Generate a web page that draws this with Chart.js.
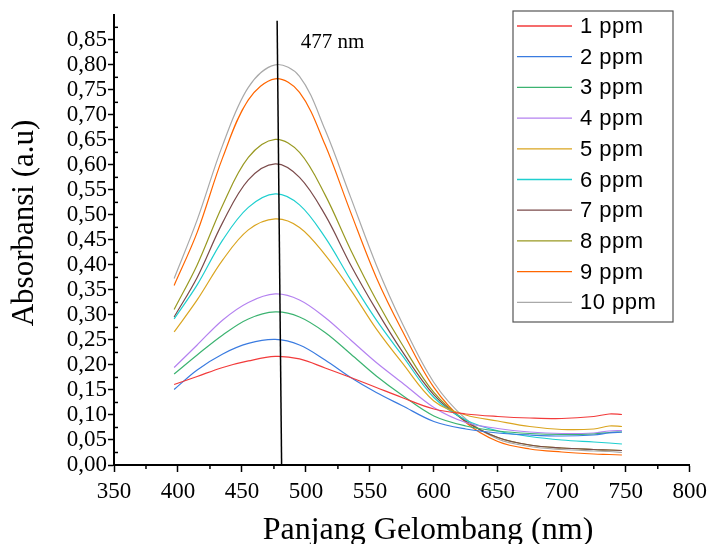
<!DOCTYPE html>
<html>
<head>
<meta charset="utf-8">
<script src="https://cdn.jsdelivr.net/npm/chart.js@4.4.1/dist/chart.umd.min.js"></script>
<style>
  html, body { margin: 0; padding: 0; background: #fff; }
  #wrap { width: 713px; height: 544px; }
</style>
</head>
<body>
<div id="wrap"><canvas id="spectra" width="713" height="544"></canvas></div>
<script>
const wavelengths = [397, 415, 435, 455, 476, 495, 515, 535, 555, 575, 600, 625, 650, 675, 700, 725, 737, 747];

const seriesLabels = ['1 ppm', '2 ppm', '3 ppm', '4 ppm', '5 ppm', '6 ppm', '7 ppm', '8 ppm', '9 ppm', '10 ppm'];
const seriesColors = ['#f23b3b', '#3a7be0', '#3cb371', '#b482f0', '#daa520', '#1fcfcf', '#7b4b4b', '#999922', '#ff6600', '#a9a9a9'];

// absorbance (a.u) per concentration
const ppm1  = [0.161, 0.177, 0.195, 0.208, 0.217, 0.212, 0.194, 0.175, 0.155, 0.135, 0.112, 0.102, 0.097, 0.094, 0.093, 0.097, 0.102, 0.101];
const ppm2  = [0.151, 0.190, 0.222, 0.243, 0.251, 0.240, 0.210, 0.175, 0.145, 0.119, 0.087, 0.072, 0.064, 0.060, 0.058, 0.060, 0.064, 0.066];
const ppm3  = [0.182, 0.220, 0.260, 0.292, 0.306, 0.296, 0.265, 0.222, 0.178, 0.140, 0.098, 0.078, 0.068, 0.063, 0.061, 0.062, 0.065, 0.066];
const ppm4  = [0.195, 0.240, 0.290, 0.325, 0.342, 0.330, 0.295, 0.250, 0.205, 0.165, 0.115, 0.085, 0.073, 0.066, 0.063, 0.064, 0.068, 0.069];
const ppm5  = [0.266, 0.330, 0.410, 0.470, 0.492, 0.475, 0.420, 0.350, 0.272, 0.205, 0.128, 0.100, 0.088, 0.077, 0.071, 0.072, 0.078, 0.077];
const ppm6  = [0.292, 0.360, 0.450, 0.515, 0.542, 0.520, 0.455, 0.370, 0.290, 0.220, 0.135, 0.090, 0.068, 0.057, 0.050, 0.046, 0.044, 0.042];
const ppm7  = [0.296, 0.375, 0.485, 0.570, 0.602, 0.575, 0.500, 0.400, 0.310, 0.228, 0.140, 0.087, 0.055, 0.040, 0.034, 0.031, 0.030, 0.029];
const ppm8  = [0.311, 0.400, 0.520, 0.615, 0.651, 0.625, 0.540, 0.430, 0.330, 0.242, 0.145, 0.088, 0.055, 0.040, 0.034, 0.031, 0.030, 0.029];
const ppm9  = [0.359, 0.465, 0.615, 0.730, 0.772, 0.745, 0.640, 0.505, 0.375, 0.270, 0.155, 0.085, 0.047, 0.032, 0.026, 0.022, 0.021, 0.020];
const ppm10 = [0.373, 0.490, 0.640, 0.755, 0.800, 0.777, 0.670, 0.535, 0.400, 0.285, 0.165, 0.092, 0.052, 0.037, 0.031, 0.028, 0.027, 0.025];
const allSeries = [ppm1, ppm2, ppm3, ppm4, ppm5, ppm6, ppm7, ppm8, ppm9, ppm10];

// lambda max marker
const peakLabel = '477 nm';
const peakLine = { x1: 477.5, y1: 0.888, x2: 481, y2: 0 };
const peakText = { x: 496, y: 0.845 };

const serif = '"Liberation Serif", "Times New Roman", serif';
const sans = '"Liberation Sans", Arial, sans-serif';

const datasets = allSeries.map((vals, i) => ({
  label: seriesLabels[i],
  data: vals.map((v, j) => ({ x: wavelengths[j], y: v })),
  borderColor: seriesColors[i],
  borderWidth: 1.2,
  pointRadius: 0,
  fill: false,
  tension: 0.35,
}));

// small ticks between the labelled ones + axis titles + marker + boxed legend
const extras = {
  id: 'extras',
  afterDraw(chart) {
    const ctx = chart.ctx;
    const xs = chart.scales.x, ys = chart.scales.y;
    const area = chart.chartArea;
    ctx.save();
    ctx.strokeStyle = '#000';
    ctx.lineWidth = 1.5;
    // minor ticks
    for (let v = 375; v < 800; v += 50) {
      const px = xs.getPixelForValue(v);
      ctx.beginPath(); ctx.moveTo(px, area.bottom); ctx.lineTo(px, area.bottom + 4); ctx.stroke();
    }
    for (let k = 0; k < 18; k++) {
      const py = ys.getPixelForValue(0.025 + k * 0.05);
      ctx.beginPath(); ctx.moveTo(area.left, py); ctx.lineTo(area.left + 4, py); ctx.stroke();
    }
    // 477 nm line
    ctx.lineWidth = 1.5;
    ctx.beginPath();
    ctx.moveTo(xs.getPixelForValue(peakLine.x1), ys.getPixelForValue(peakLine.y1));
    ctx.lineTo(xs.getPixelForValue(peakLine.x2), ys.getPixelForValue(peakLine.y2));
    ctx.stroke();
    ctx.fillStyle = '#000';
    ctx.font = '21px ' + serif;
    ctx.textBaseline = 'middle';
    ctx.textAlign = 'left';
    ctx.fillText(peakLabel, xs.getPixelForValue(peakText.x), ys.getPixelForValue(peakText.y));

    // axis titles
    ctx.font = '32px ' + serif;
    ctx.textAlign = 'center';
    ctx.textBaseline = 'alphabetic';
    ctx.fillText('Panjang Gelombang (nm)', 428, 539);
    ctx.save();
    ctx.translate(33, 223);
    ctx.rotate(-Math.PI / 2);
    ctx.font = '31px ' + serif;
    ctx.fillText('Absorbansi (a.u)', 0, 0);
    ctx.restore();

    // legend box
    const lx = 513, ly = 11, lw = 160, lh = 311, row = 30.7;
    ctx.fillStyle = '#fff';
    ctx.fillRect(lx, ly, lw, lh);
    ctx.strokeStyle = '#555';
    ctx.lineWidth = 1.2;
    ctx.strokeRect(lx, ly, lw, lh);
    ctx.font = '22px ' + sans;
    ctx.letterSpacing = '0.5px';
    ctx.textAlign = 'left';
    ctx.textBaseline = 'middle';
    chart.data.datasets.forEach((ds, i) => {
      const cy = ly + 15 + i * row;
      ctx.strokeStyle = ds.borderColor;
      ctx.lineWidth = 1.3;
      ctx.beginPath(); ctx.moveTo(lx + 4, cy); ctx.lineTo(lx + 59, cy); ctx.stroke();
      ctx.fillStyle = '#000';
      ctx.fillText(ds.label, lx + 67, cy + 1);
    });
    ctx.restore();
  }
};

new Chart(document.getElementById('spectra'), {
  type: 'line',
  data: { datasets },
  options: {
    responsive: false,
    animation: false,
    layout: { padding: { top: 13, right: 20, left: 0, bottom: 0 } },
    plugins: { legend: { display: false }, tooltip: { enabled: false } },
    scales: {
      x: {
        type: 'linear',
        min: 350,
        max: 800,
        afterFit(scale) { scale.height = 79; },
        ticks: { stepSize: 50, autoSkip: false, color: '#000', padding: 6, maxRotation: 0, font: { family: serif, size: 23 } },
        grid: { drawOnChartArea: false, tickLength: 7, tickColor: '#000', tickWidth: 1.5 },
        border: { color: '#000', width: 2 },
      },
      y: {
        min: 0,
        max: 0.9,
        afterFit(scale) { scale.width = 114; },
        afterBuildTicks(scale) { scale.ticks = scale.ticks.filter(t => t.value < 0.86); },
        ticks: {
          stepSize: 0.05,
          autoSkip: false,
          color: '#000',
          padding: 1,
          font: { family: serif, size: 23 },
          callback: v => v.toFixed(2).replace('.', ','),
        },
        grid: { drawOnChartArea: false, tickLength: 6, tickColor: '#000', tickWidth: 1.5 },
        border: { color: '#000', width: 2 },
      },
    },
  },
  plugins: [extras],
});
</script>
</body>
</html>
